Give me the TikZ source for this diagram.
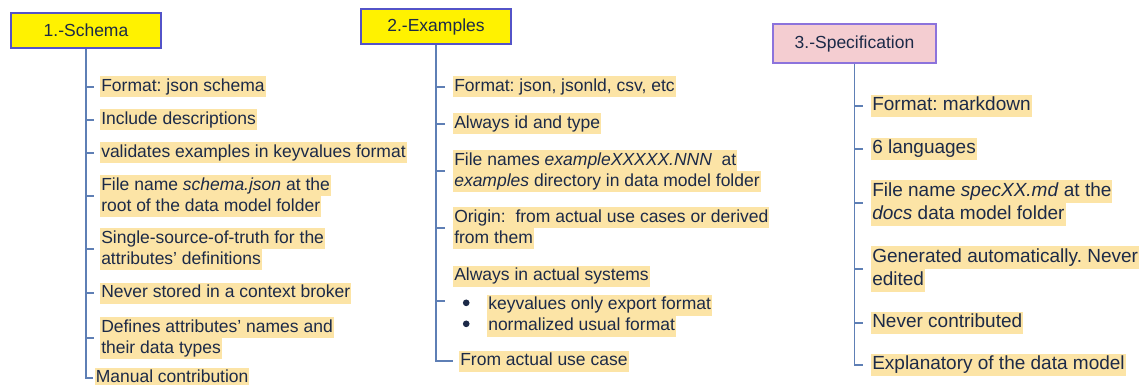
\documentclass[tikz,border=0pt]{standalone}
\usepackage{fontspec}
\setmainfont{Liberation Sans}
\frenchspacing
\definecolor{hl}{HTML}{FCE4A6}
\definecolor{ink}{HTML}{1C2A48}
\definecolor{trunkcol}{HTML}{5E7FB5}
\definecolor{boxedge}{HTML}{5353C8}
\definecolor{pinkfill}{HTML}{F4CDD1}
\definecolor{pinkedge}{HTML}{8C73DC}
% highlighted line: the strut fills exactly one baselineskip so stacked lines touch
\newcommand\hlstrut{\rule[-0.28\baselineskip]{0pt}{\baselineskip}}
\newcommand\hlt[1]{\begingroup\setlength\fboxsep{0pt}\colorbox{hl}{\hlstrut\hspace{0.75pt}#1\hspace{0.75pt}}\endgroup}
% round list bullet drawn as a small disc
\newcommand\bul{\makebox[25.5pt][l]{\hspace{7.2pt}\raisebox{2.6pt}{\tikz\fill[ink] (0,0) circle (2.5pt);}}}
\begin{document}
\begin{tikzpicture}[x=0.75pt,y=-0.75pt,
  title/.style={draw=boxedge,line width=1.1pt,fill=yellow,text=ink,
    font=\fontsize{13.125pt}{15.75pt}\selectfont,
    minimum width=112.5pt,minimum height=26.25pt,inner sep=0pt},
  item/.style={anchor=west,inner sep=0pt,align=left,text=ink,
    font=\fontsize{13.125pt}{15.75pt}\selectfont},
  bigitem/.style={item,font=\fontsize{14.25pt}{16.9pt}\selectfont},
  trunk/.style={draw=trunkcol,line width=1pt}]
\fill[white] (0,0) rectangle (1143,385);
\useasboundingbox (0,0) rectangle (1143,385);

% --- column 1: schema
\node[title] (b1) at (86,30.5) {1.-Schema};
\node[item] (s1) at (100,87) {\hlt{Format: json schema}};
\node[item] (s2) at (100,120) {\hlt{Include descriptions}};
\node[item] (s3) at (100,153) {\hlt{validates examples in keyvalues format}};
\node[item] (s4) at (100,196) {\hlt{File name \textit{schema.json} at the}\\\hlt{root of the data model folder}};
\node[item] (s5) at (100,249) {\hlt{Single-source-of-truth for the}\\\hlt{attributes’ definitions}};
\node[item] (s6) at (100,293) {\hlt{Never stored in a context broker}};
\node[item] (s7) at (100,338) {\hlt{Defines attributes’ names and}\\\hlt{their data types}};
\node[item] (s8) at (94.5,378) {\hlt{Manual contribution}};
\draw[trunk] (b1.south) |- ([xshift=-1.5pt]s8.west);
\foreach \n in {s1,s2,s3,s4,s5,s6,s7}
  \draw[trunk] (b1.south |- \n.west) -- ++(8,0);

% --- column 2: examples
\node[title] (b2) at (436,26.5) {2.-Examples};
\node[item] (e1) at (453,87) {\hlt{Format: json, jsonld, csv, etc}};
\node[item] (e2) at (453,124) {\hlt{Always id and type}};
\node[item] (e3) at (453,171) {\hlt{File names \textit{exampleXXXXX.NNN}\ \ at}\\\hlt{\textit{examples} directory in data model folder}};
\node[item] (e4) at (453,228) {\hlt{Origin:\ \ from actual use cases or derived}\\\hlt{from them}};
\node[item] (e5) at (453,301) {\hlt{Always in actual systems}\\[6pt]\bul\hlt{keyvalues only export format}\\\bul\hlt{normalized usual format}};
\node[item] (e6) at (459,361) {\hlt{From actual use case}};
\draw[trunk] (b2.south) |- ([xshift=-4.5pt]e6.west);
\foreach \n in {e1,e2,e3,e4,e5}
  \draw[trunk] (b2.south |- \n.west) -- ++(8.5,0);

% --- column 3: specification
\node[title,fill=pinkfill,draw=pinkedge,minimum width=122.25pt,minimum height=29.25pt] (b3) at (854.5,43.5) {3.-Specification};
\node[bigitem] (p1) at (871,106) {\hlt{Format: markdown}};
\node[bigitem] (p2) at (871,149) {\hlt{6 languages}};
\node[bigitem] (p3) at (871,203) {\hlt{File name \textit{specXX.md} at the}\\\hlt{\textit{docs} data model folder}};
\node[bigitem] (p4) at (871,269) {\hlt{Generated automatically. Never}\\\hlt{edited}};
\node[bigitem] (p5) at (871,323) {\hlt{Never contributed}};
\node[bigitem] (p6) at (871,365) {\hlt{Explanatory of the data model}};
\draw[trunk] (b3.south) |- ([xshift=-6pt]p6.west);
\foreach \n in {p1,p2,p3,p4,p5}
  \draw[trunk] (b3.south |- \n.west) -- ++(8,0);
\end{tikzpicture}
\end{document}
